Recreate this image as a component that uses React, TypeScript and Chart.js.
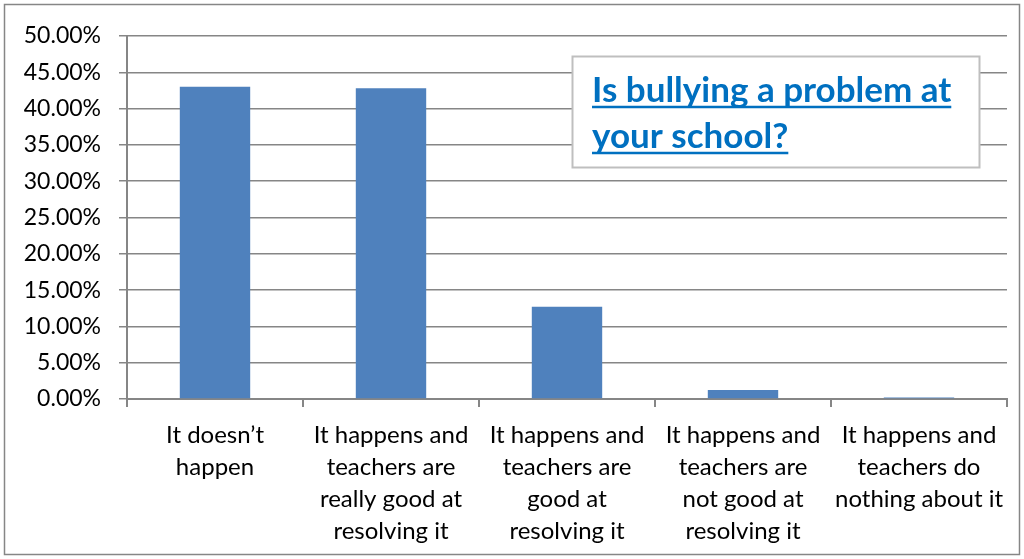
import React, { useEffect, useRef } from "react";
import { Chart, registerables } from "chart.js";

Chart.register(...registerables);

const categories: string[][] = [
  ["It doesn’t", "happen"],
  ["It happens and", "teachers are", "really good at", "resolving it"],
  ["It happens and", "teachers are", "good at", "resolving it"],
  ["It happens and", "teachers are", "not good at", "resolving it"],
  ["It happens and", "teachers do", "nothing about it"],
];
const values: number[] = [43.0, 42.8, 12.7, 1.25, 0.2];
const titleLines: string[] = ["Is bullying a problem at", "your school?"];

const FONT = "Lato, 'Open Sans', sans-serif";

const framePlugin = {
  id: "frame",
  afterDraw(chart: any) {
    const ctx = chart.ctx as CanvasRenderingContext2D;
    ctx.save();
    ctx.strokeStyle = "#868686";
    ctx.lineWidth = 1.5;
    ctx.strokeRect(4.5, 4.5, chart.width - 9, chart.height - 9);
    // title box
    const bx = 572.5, by = 56.5, bw = 407, bh = 111;
    ctx.fillStyle = "#ffffff";
    ctx.fillRect(bx, by, bw, bh);
    ctx.strokeStyle = "#bfbfbf";
    ctx.lineWidth = 2;
    ctx.strokeRect(bx, by, bw, bh);
    ctx.fillStyle = "#0070C0";
    ctx.strokeStyle = "#0070C0";
    ctx.font = `bold 35px ${FONT}`;
    ctx.textBaseline = "alphabetic";
    const x0 = 592;
    const ys = [102, 148];
    titleLines.forEach((t, i) => {
      ctx.fillText(t, x0, ys[i]);
      const w = ctx.measureText(t).width;
      ctx.lineWidth = 2.5;
      ctx.beginPath();
      ctx.moveTo(x0, ys[i] + 5);
      ctx.lineTo(x0 + w, ys[i] + 5);
      ctx.stroke();
    });
    ctx.restore();
  },
};

export default function App() {
  const ref = useRef<HTMLCanvasElement | null>(null);
  useEffect(() => {
    document.body.style.margin = "0";
    const chart = new Chart(ref.current as HTMLCanvasElement, {
      type: "bar",
      data: {
        labels: categories,
        datasets: [
          {
            data: values,
            backgroundColor: "#4F81BD",
            barPercentage: 0.4,
            categoryPercentage: 1,
          },
        ],
      },
      options: {
        animation: false,
        responsive: false,
        layout: { padding: { left: 10, right: 17, top: 36, bottom: 8 } },
        plugins: { legend: { display: false }, tooltip: { enabled: false } },
        scales: {
          x: {
            offset: true,
            grid: {
              offset: true,
              drawOnChartArea: false,
              drawTicks: true,
              tickLength: 8,
              color: "#868686",
              lineWidth: 2,
            },
            border: { color: "#868686", width: 2 },
            ticks: {
              color: "#000000",
              font: { family: FONT, size: 24, lineHeight: 1.333 },
              maxRotation: 0,
              minRotation: 0,
              autoSkip: false,
              padding: 12,
            },
            afterFit: (s: any) => {
              s.height = 152;
            },
          },
          y: {
            min: 0,
            max: 50,
            grid: {
              color: "#868686",
              lineWidth: 1.5,
              tickLength: 8,
            },
            border: { color: "#868686", width: 2 },
            ticks: {
              stepSize: 5,
              color: "#000000",
              font: { family: FONT, size: 23 },
              padding: 18,
              callback: (v: any) => Number(v).toFixed(2) + "%",
            },
            afterFit: (s: any) => {
              s.width = 117;
            },
          },
        },
      },
      plugins: [framePlugin],
    });
    return () => chart.destroy();
  }, []);
  return <canvas ref={ref} width={1024} height={559} style={{ display: "block" }} />;
}
